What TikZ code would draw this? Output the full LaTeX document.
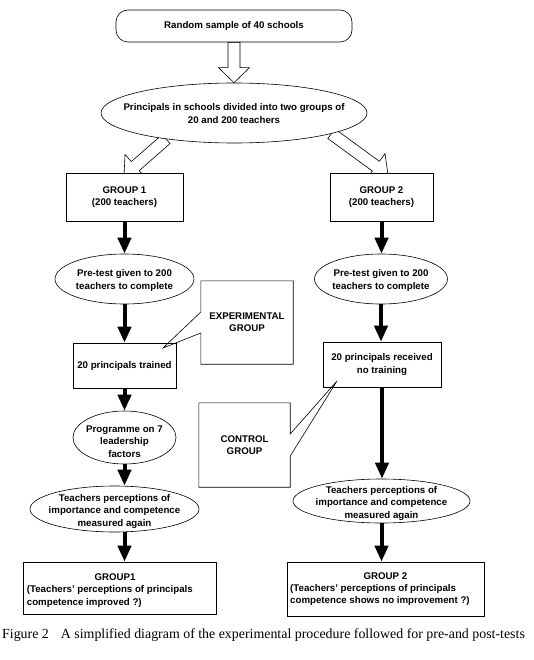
\documentclass[tikz,border=0pt]{standalone}
\usepackage{fontspec}
\setmainfont{Liberation Sans}
\newfontfamily\capfont{Liberation Serif}
\usetikzlibrary{shapes.geometric,arrows.meta,calc}
\pgfdeclarelayer{bg}
\pgfsetlayers{bg,main}
\newcommand\blockarrow[2]{%
  \coordinate (ba-h) at ($(#2)!15pt!(#1)$);
  \draw[hollow] ($(#1)!6pt!90:(#2)$) -- ($(ba-h)!6pt!90:(#2)$) -- ($(ba-h)!15.5pt!90:(#2)$) -- (#2)
    -- ($(ba-h)!15.5pt!-90:(#2)$) -- ($(ba-h)!6pt!-90:(#2)$) -- ($(#1)!6pt!-90:(#2)$) -- cycle;}
\tikzset{
  lbl/.style={font=\fontsize{9.7}{12.3}\selectfont\bfseries, align=center},
  box/.style={draw, line width=0.6pt, fill=white, inner sep=0pt, lbl},
  ell/.style={ellipse, draw, line width=0.6pt, fill=white, inner sep=0pt},
  blk/.style={line width=4pt, -{Triangle[length=16pt,width=13pt]}},
  hollow/.style={draw, line width=0.6pt, fill=white, line join=miter},
  callout/.style={draw, line width=0.6pt, line join=miter},
}
\begin{document}
\begin{tikzpicture}[x=1pt,y=-1pt]
\useasboundingbox (0,0) rectangle (533,660);
% top
\node[box, rounded corners=12pt, minimum width=236pt, minimum height=32pt] (top) at (234,26) {Random sample of 40 schools};
\node[ell, minimum width=266pt, minimum height=60pt] (e1) at (234,113) {};
\node[lbl] (e1t) at (234,113.5) {Principals in schools divided into two groups of\\20 and 200 teachers};
% groups
\node[box, minimum width=117pt, minimum height=48pt] (g1) at (124.5,197) {GROUP 1\\(200 teachers)};
\node[box, minimum width=103pt, minimum height=48pt] (g2) at (381.5,197) {GROUP 2\\(200 teachers)};
% pre-tests
\node[ell, minimum width=139pt, minimum height=50pt] (p1) at (124.5,279) {};
\node[lbl] (p1t) at (124.5,280.5) {Pre-test given to 200\\teachers to complete};
\node[ell, minimum width=133pt, minimum height=50pt] (p2) at (381,279) {};
\node[lbl] (p2t) at (381,280.5) {Pre-test given to 200\\teachers to complete};
% principals
\node[box, minimum width=103pt, minimum height=45pt] (t1) at (124.5,365.5) {20 principals trained};
\node[box, minimum width=118pt, minimum height=45pt] (t2) at (382,364.5) {20 principals received\\no training};
% programme
\node[ell, minimum width=103pt, minimum height=53pt] (prog) at (124.5,437.5) {};
\node[lbl] (progt) at (124.5,441.5) {Programme on 7\\leadership\\factors};
% measured again
\node[ell, minimum width=169pt, minimum height=46pt] (m1) at (114.5,509) {};
\node[lbl] (m1t) at (114.5,511.5) {Teachers perceptions of\\importance and competence\\measured again};
\node[ell, minimum width=177pt, minimum height=44pt] (m2) at (381.5,501) {};
\node[lbl] (m2t) at (381.5,503.5) {Teachers perceptions of\\importance and competence\\measured again};
% final boxes
\node[box, minimum width=193pt, minimum height=52pt] (f1) at (119.5,588) {};
\node[lbl, align=left, anchor=west, inner sep=0pt] (f1t) at (26.7,590.5) {\hspace*{67.6pt}GROUP1\\(Teachers' perceptions of principals\\competence improved ?)};
\node[box, minimum width=197pt, minimum height=54pt] (f2) at (385.5,589) {};
\node[lbl, align=left, anchor=west, inner sep=0pt] (f2t) at (290,589) {\hspace*{73.3pt}GROUP 2\\(Teachers' perceptions of principals\\competence shows no improvement ?)};
% hollow arrows
\coordinate (lt) at (124,176);
\coordinate (rt) at (388,175);
\begin{pgfonlayer}{bg}
\blockarrow{top.south}{e1.north}
\blockarrow{e1.201.7}{lt}
\blockarrow{e1.-12.1}{rt}
\end{pgfonlayer}
% black arrows
\draw[blk] (g1.south) -- (p1.north);
\draw[blk] (g2.south) -- (g2.south |- p2.north);
\draw[blk] (p1.south) -- (t1.north);
\draw[blk] (p2.south) -- (p2.south |- t2.north);
\draw[blk] (t1.south) -- (prog.north);
\draw[blk] (t2.south) -- (t2.south |- m2.north);
\draw[blk] (prog.south) -- (prog.south |- m1.north);
\draw[blk] (prog.south |- m1.south) -- (prog.south |- f1.north);
\draw[blk] (m2.south) -- (m2.south |- f2.north);
% callouts
\node[lbl, minimum width=92pt, minimum height=83pt, inner sep=0pt] (exp) at (247,322.5) {EXPERIMENTAL\\GROUP};
\coordinate (exptip) at (163,348);
\draw[callout] (exp.north west) -- (exp.north east) -- (exp.south east) -- (exp.south west)
  -- ($(exp.west)+(0,10.5)$) -- (exptip) -- ($(exp.west)+(0,-10.5)$) -- cycle;
\node[lbl, minimum width=91pt, minimum height=84pt, inner sep=0pt] (ctl) at (244.5,445) {CONTROL\\GROUP};
\coordinate (ctltip) at (337,381);
\draw[callout] (ctl.north west) -- (ctl.north east) -- ($(ctl.east)+(0,-11)$) -- (ctltip)
  -- ($(ctl.east)+(0,11)$) -- (ctl.south east) -- (ctl.south west) -- cycle;
% caption
\node[font=\capfont\fontsize{13.9}{16}\selectfont, anchor=base west, inner sep=0pt] (cap) at (2,638) {Figure 2\hspace{12pt}A simplified diagram of the experimental procedure followed for pre-and post-tests};
\end{tikzpicture}
\end{document}
